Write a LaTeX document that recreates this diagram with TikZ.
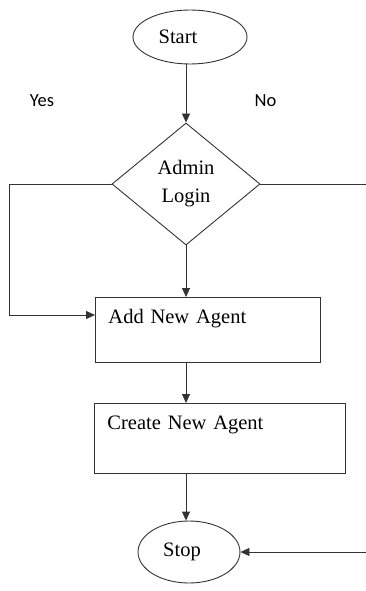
\documentclass[tikz,border=0pt]{standalone}
\usepackage{fontspec}
\setmainfont{Liberation Serif}
\newfontfamily\notefont{Carlito}
\usetikzlibrary{positioning, arrows.meta, calc, shapes.geometric}
\tikzset{
  flowline/.style={line width=0.9pt, draw=black!80},
  flowarr/.style={flowline, -{Triangle[length=9pt, width=8pt]}},
  termnode/.style={
    ellipse, flowline, inner sep=0pt,
    font=\fontsize{20.5}{24}\selectfont,
  },
  decnode/.style={
    diamond, flowline, inner sep=0pt, align=center,
    minimum width=148pt, minimum height=122pt,
    font=\fontsize{20.5}{28}\selectfont,
  },
  % process boxes keep their text near the top edge
  procbox/.style={
    rectangle, flowline, anchor=north west, align=left,
    inner xsep=13pt, inner ysep=0pt, text height=26pt,
    font=\fontsize{20.5}{24}\selectfont,
  },
  branchlabel/.style={font=\notefont\fontsize{18.5}{22}\selectfont},
}

\begin{document}
\begin{tikzpicture}[x=1pt, y=-1pt]
  \useasboundingbox (0,0) rectangle (366,591);

  % terminal text sits a little left of centre
  \node[termnode, minimum width=114pt, minimum height=54pt] (start) at (190,37) {Start\hspace*{24pt}};
  \node[decnode] (login) at (186,184) {Admin\\Login};
  \node[procbox, text width=199pt, text depth=39pt] (addAgent) at (95,297) {Add New Agent};
  \node[procbox, text width=225pt, text depth=44pt] (createAgent) at (94,403) {Create New Agent};
  \node[termnode, minimum width=102pt, minimum height=62pt] (stop) at (189,552) {Stop\hspace*{14pt}};

  \node[branchlabel] (yes) at (42,101) {Yes};
  \node[branchlabel] (no) at (265.5,101) {No};

  % --- arrows ---
  \coordinate (noEnd) at (366,184);
  \coordinate (stopIn) at (366,552);
  \coordinate (yesIn) at ($(addAgent.north west)+(0,18)$);

  \draw[flowarr] (start.south -| login.north) -- (login.north);
  \draw[flowarr] (login.south) -- (login.south |- addAgent.north);
  \draw[flowarr] (login.south |- addAgent.south) -- (login.south |- createAgent.north);
  \draw[flowarr] (login.south |- createAgent.south) -- (login.south |- stop.north);

  \draw[flowarr] (login.west) -- ++(-102,0) |- (yesIn);
  \draw[flowline] (login.east) -- (noEnd);
  \draw[flowarr] (stopIn) -- (stop.east);
\end{tikzpicture}
\end{document}
